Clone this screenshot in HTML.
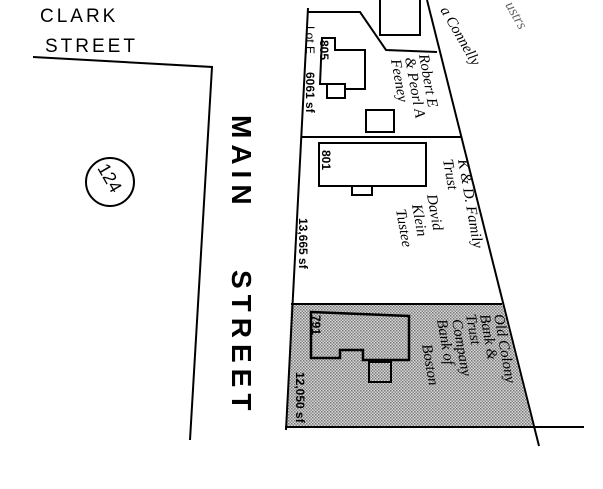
<!DOCTYPE html>
<html><head><meta charset="utf-8"><style>
html,body{margin:0;padding:0;background:#fff;width:603px;height:489px;overflow:hidden}
svg{display:block}
</style></head><body>
<svg width="603" height="489" viewBox="0 0 603 489" xmlns="http://www.w3.org/2000/svg" font-family="Liberation Sans, sans-serif">
<defs>
<pattern id="dots" width="3" height="3" patternUnits="userSpaceOnUse">
<rect width="3" height="3" fill="#d8d8d8"/><rect width="1.5" height="1.5" fill="#777"/><rect x="1.5" y="1.5" width="1.5" height="1.5" fill="#888"/>
</pattern>
</defs>
<text x="40" y="22" font-size="19" letter-spacing="3">CLARK</text>
<text x="45" y="52" font-size="19" letter-spacing="3">STREET</text>
<polyline points="33,57 212,67 190,440" fill="none" stroke="#000" stroke-width="2"/>
<circle cx="110" cy="182" r="24" fill="none" stroke="#000" stroke-width="2"/>
<text transform="translate(97,168) rotate(60)" font-size="18">124</text>
<text transform="translate(232,115) rotate(90)" font-size="28" font-weight="bold" letter-spacing="6">MAIN</text>
<text transform="translate(232,270) rotate(90)" font-size="28" font-weight="bold" letter-spacing="6">STREET</text>
<polygon points="291,304 502,304 533,427 286,427" fill="url(#dots)"/>
<line x1="308" y1="8" x2="286" y2="430" stroke="#000" stroke-width="2"/>
<line x1="427" y1="0" x2="539" y2="446" stroke="#000" stroke-width="2"/>
<line x1="301" y1="137" x2="461" y2="137" stroke="#000" stroke-width="2"/>
<line x1="291" y1="304" x2="502" y2="304" stroke="#000" stroke-width="2"/>
<line x1="285" y1="427" x2="584" y2="427" stroke="#000" stroke-width="2"/>
<polyline points="308,12 360,12 386,50 437,52" fill="none" stroke="#000" stroke-width="2"/>
<polyline points="380,0 380,35 420,35 420,0" fill="none" stroke="#000" stroke-width="2"/>
<polygon points="322,38 335,38 335,50 365,50 365,89 345,89 345,84 320,84" fill="none" stroke="#000" stroke-width="2"/>
<rect x="327" y="84" width="18" height="14" fill="none" stroke="#000" stroke-width="2"/>
<rect x="366" y="110" width="28" height="22" fill="none" stroke="#000" stroke-width="2"/>
<rect x="319" y="143" width="107" height="43" fill="none" stroke="#000" stroke-width="2"/>
<rect x="352" y="186" width="20" height="9" fill="none" stroke="#000" stroke-width="2"/>
<polygon points="311,312 409,316 409,360 363,360 363,350 340,350 340,358 311,358" fill="none" stroke="#000" stroke-width="2.5"/>
<rect x="369" y="362" width="22" height="20" fill="none" stroke="#000" stroke-width="2"/>
<g font-size="12" font-weight="bold">
<text transform="translate(320,40) rotate(90)">805</text>
<text transform="translate(306,26) rotate(90)" font-weight="normal">Lot E</text>
<text transform="translate(306,72) rotate(90)">6061 sf</text>
<text transform="translate(322,150) rotate(90)">801</text>
<text transform="translate(299,218) rotate(90)">13,665 sf</text>
<text transform="translate(312,315) rotate(90)">791</text>
<text transform="translate(296,372) rotate(90)">12,050 sf</text>
</g>
<g font-size="15" font-family="Liberation Serif, serif" font-style="italic">
<text transform="translate(419,55) rotate(80)">Robert E</text>
<text transform="translate(405,58) rotate(80)">&amp; Peorl A</text>
<text transform="translate(391,60) rotate(80)">Feeney</text>
<text transform="translate(458,160) rotate(80)">K &amp; D. Family</text>
<text transform="translate(443,160) rotate(80)">Trust</text>
<text transform="translate(427,195) rotate(80)">David</text>
<text transform="translate(412,205) rotate(80)">Klein</text>
<text transform="translate(396,210) rotate(80)">Tustee</text>
<text transform="translate(494,315) rotate(80)">Old Colony</text>
<text transform="translate(480,315) rotate(80)">Bank &amp;</text>
<text transform="translate(466,315) rotate(80)">Trust</text>
<text transform="translate(452,320) rotate(80)">Company</text>
<text transform="translate(437,320) rotate(80)">Bank of</text>
<text transform="translate(422,345) rotate(80)">Boston</text>
<text transform="translate(440,10) rotate(60)">a Connelly</text>
<text transform="translate(505,5) rotate(60)" fill="#666">ustrs</text>
</g>
</svg>
</body></html>
